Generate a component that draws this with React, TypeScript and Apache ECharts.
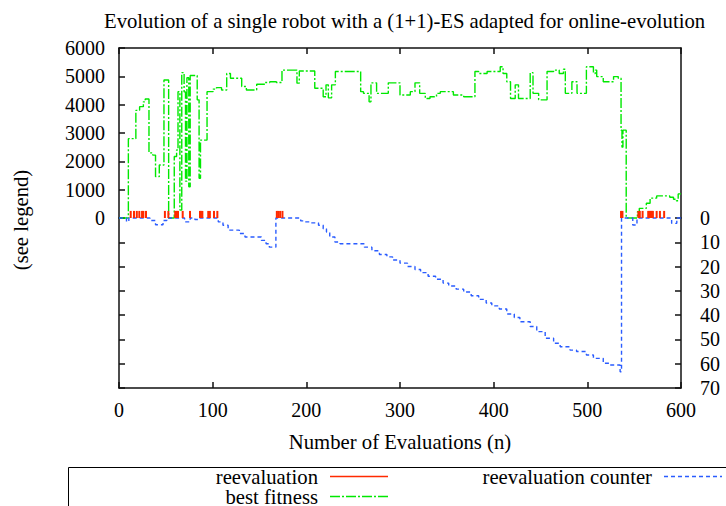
import React, { useEffect, useRef } from "react";
import * as echarts from "echarts";

const TITLE = "Evolution of a single robot with a (1+1)-ES adapted for online-evolution";
const X_NAME = "Number of Evaluations (n)";
const Y_NAME = "(see legend)";
const SERIES_NAMES = ["reevaluation", "best fitness", "reevaluation counter"];

const X_MIN = 0;
const X_MAX = 600;
const X_STEP = 100;
const FIT_MIN = 0;
const FIT_MAX = 6000;
const FIT_STEP = 1000;
const CNT_MIN = 0;
const CNT_MAX = 70;
const CNT_STEP = 10;

// best fitness: [evaluation, value], value holds from this evaluation on
const bestFitness: [number, number][] = [
  [0, 0], [10, 2800], [18, 3800], [22, 3930], [26, 4100], [28, 4200], [32, 2300], [36, 2220],
  [39, 1460], [43, 1870], [48, 4870], [53, 0], [59, 2170], [61.5, 2400], [63, 4460], [65, 280],
  [67, 5130], [69.5, 4450], [71, 1300], [72.5, 4950], [74.5, 1100], [76, 5030], [83.5, 4170],
  [85.5, 1400], [87, 2750], [94, 4460], [100.5, 4550], [104, 4600], [109.5, 4520], [115, 5100],
  [119, 4930], [131, 4640], [136, 4520], [147, 4720], [156, 4780], [161, 4810], [168, 4780],
  [174, 5220], [190, 4760], [192.5, 5190], [209, 4580], [218, 4280], [221, 4700], [223.5, 4240],
  [227, 4700], [231, 5170], [258, 4460], [261, 4400], [267, 4100], [269, 4770], [275, 4400],
  [287.5, 4770], [300, 4340], [311, 4460], [316, 4770], [321, 4400], [327, 4220], [332, 4280],
  [339, 4400], [343, 4460], [357, 4340], [368, 4280], [380, 5170], [384, 5100], [393, 5170],
  [407, 5340], [410, 5100], [414, 4810], [418, 4220], [423, 4700], [426.5, 4220], [439, 5130],
  [442, 4400], [448, 4170], [457, 5170], [464, 5220], [470, 5100], [474.5, 5250], [476.5, 4400],
  [483.5, 4810], [489, 4400], [499, 5340], [506.5, 5100], [508.5, 5220], [510, 4990], [517, 4810],
  [528, 4990], [533, 4930], [536, 3100], [537, 2500], [538, 3100], [541.5, 0], [553.5, 220],
  [555.5, 340], [563, 520], [567, 700], [574, 780], [588, 730], [592, 660], [595, 610], [597, 850],
  [600, 850],
];

// reevaluation counter: [evaluation, count], drawn downwards on the right axis
const reevalCounter: [number, number][] = [
  [0, 0], [8, 1.5], [10.5, 0], [33, 1], [39, 2.8], [47, 1], [51, 0], [70, 1.6], [76, 0],
  [81, 0.6], [86.5, 0], [106, 1.6], [111, 3], [116.5, 5], [128.5, 6.4], [134.5, 7.8],
  [152, 9.2], [157, 10.6], [160.5, 12], [167.5, 0], [194, 1.2], [198.5, 1.6], [205, 2],
  [213, 3], [218, 4.4], [221.5, 5.8], [225, 7.8], [230.5, 9.9], [236, 10.6], [262, 12],
  [270, 13.5], [278, 15], [286, 16], [292, 17.3], [300, 18.6], [308, 20], [316, 21.2],
  [322, 22.5], [330, 24], [338, 25.2], [346, 26.8], [352, 28], [360, 29.3], [368, 30.5],
  [376, 32], [384, 33.5], [392, 35], [398, 36.2], [406, 37.5], [414, 39.5], [422, 41],
  [428, 42.7], [439, 44.7], [446, 46.8], [455, 49.5], [464, 51.6], [471, 53], [481.5, 54.4],
  [488.5, 55], [499, 56.4], [506.5, 57.8], [517, 59.8], [524, 60.5], [535, 63.3], [536.5, 0],
  [548.5, 2.9], [553, 0], [590, 2.2], [595.5, 0], [600, 0],
];

// evaluations at which a reevaluation happened
const reevaluationAt: number[] = [
  12.5, 16, 19, 21.7, 24.6, 26, 28.8, 49, 52.7, 60, 61, 62, 63, 68, 75.8, 86.5, 87.5, 89,
  95.3, 97, 101.4, 105, 168.5, 170, 172, 174.5, 536, 537.5, 554.5, 556, 559, 565, 566, 567,
  568, 569, 570, 574, 577.5, 582,
];
const REEVAL_MARK = 250;

const FONT = "Liberation Serif";

// legend sample icons built from a dash pattern (on, off, on, off ...) over 58px
function dashIcon(pattern: number[], width = 58, thick = 1.6): string {
  let d = "";
  let x = 0;
  let i = 0;
  while (x < width) {
    const len = pattern[i % pattern.length];
    if (i % 2 === 0) {
      const end = Math.min(x + len, width);
      d += `M${x},0H${end}V${thick}H${x}Z`;
    }
    x += len;
    i++;
  }
  return "path://" + d;
}

export default function App() {
  const ref = useRef<HTMLDivElement>(null);

  useEffect(() => {
    document.body.style.margin = "0";
    if (!ref.current) return;
    const chart = echarts.init(ref.current, undefined, { renderer: "svg" });

    const line = { show: true, onZero: false, lineStyle: { color: "#111", width: 1.5 } };
    const tick = { show: true, inside: true, length: 6, lineStyle: { color: "#111", width: 1.5 } };
    const label = {
      color: "#000", fontSize: 20, fontFamily: FONT,
      formatter: (v: number) => String(v),
    };
    const legendText = { fontFamily: FONT, fontSize: 20.7, color: "#000", padding: [0, 7, 0, 0] };
    const legendBase = {
      orient: "vertical", align: "right", padding: 0, itemWidth: 58, itemHeight: 14,
      itemGap: 0, selectedMode: false, textStyle: legendText,
    };

    const option: any = {
      animation: false,
      textStyle: { fontFamily: FONT, color: "#000" },
      title: {
        text: TITLE,
        left: 99,
        top: 5,
        textStyle: { fontFamily: FONT, fontSize: 20.7, fontWeight: "normal", color: "#000" },
      },
      grid: [
        { left: 119, top: 48, width: 562, height: 170 },
        { left: 119, top: 218, width: 562, height: 170 },
      ],
      xAxis: [
        {
          type: "value", gridIndex: 0, position: "top", min: X_MIN, max: X_MAX, interval: X_STEP,
          axisLine: line, axisTick: tick, axisLabel: { show: false }, splitLine: { show: false },
        },
        {
          type: "value", gridIndex: 1, position: "bottom", min: X_MIN, max: X_MAX, interval: X_STEP,
          axisLine: line, axisTick: tick, splitLine: { show: false },
          axisLabel: { ...label, margin: 12, showMinLabel: true, showMaxLabel: true },
          name: X_NAME, nameLocation: "middle", nameGap: 43,
          nameTextStyle: { fontFamily: FONT, fontSize: 20.7, color: "#000" },
        },
      ],
      yAxis: [
        {
          type: "value", gridIndex: 0, position: "left", min: FIT_MIN, max: FIT_MAX, interval: FIT_STEP,
          axisLine: line, axisTick: tick, splitLine: { show: false },
          axisLabel: { ...label, margin: 14, showMinLabel: true, showMaxLabel: true },
        },
        {
          type: "value", gridIndex: 0, position: "right", min: FIT_MIN, max: FIT_MAX,
          axisLine: line, axisTick: { show: false }, axisLabel: { show: false }, splitLine: { show: false },
        },
        {
          type: "value", gridIndex: 1, position: "right", inverse: true, min: CNT_MIN, max: CNT_MAX,
          interval: CNT_STEP, axisLine: line, axisTick: tick, splitLine: { show: false },
          axisLabel: { ...label, margin: 19, showMinLabel: true, showMaxLabel: true },
        },
        {
          type: "value", gridIndex: 1, position: "left", inverse: true, min: CNT_MIN, max: CNT_MAX,
          interval: CNT_STEP, axisLine: line, axisTick: tick, axisLabel: { show: false },
          splitLine: { show: false },
        },
      ],
      legend: [
        {
          ...legendBase, right: 338, top: 466,
          data: [{ name: SERIES_NAMES[0], icon: dashIcon([58]) }],
        },
        {
          ...legendBase, right: 338, top: 486,
          data: [{ name: SERIES_NAMES[1], icon: dashIcon([10, 2, 2, 2]) }],
        },
        {
          ...legendBase, right: 4, top: 466,
          data: [{ name: SERIES_NAMES[2], icon: dashIcon([4, 3]) }],
        },
      ],
      graphic: [
        {
          type: "rect", silent: true,
          shape: { x: 68.5, y: 467.5, width: 700, height: 100 },
          style: { fill: "none", stroke: "#000", lineWidth: 1 },
        },
        {
          type: "text", silent: true, x: 21, y: 220, rotation: Math.PI / 2,
          style: {
            text: Y_NAME, fontFamily: FONT, fontSize: 20.7, fill: "#000",
            align: "center", verticalAlign: "middle",
          },
        },
      ],
      series: [
        {
          name: SERIES_NAMES[0], type: "bar", xAxisIndex: 0, yAxisIndex: 0,
          data: reevaluationAt.map((x) => [x, REEVAL_MARK]),
          barWidth: 2, itemStyle: { color: "#ff2a00" }, z: 3,
        },
        {
          name: SERIES_NAMES[1], type: "line", xAxisIndex: 0, yAxisIndex: 0, step: "end",
          data: bestFitness, symbol: "none", clip: false, z: 2,
          itemStyle: { color: "#00e800" },
          lineStyle: { color: "#00e800", width: 1.4, type: [10, 2, 2, 2] },
        },
        {
          name: SERIES_NAMES[2], type: "line", xAxisIndex: 1, yAxisIndex: 2, step: "end",
          data: reevalCounter, symbol: "none", clip: false, z: 2,
          itemStyle: { color: "#2a5cff" },
          lineStyle: { color: "#2a5cff", width: 1.4, type: [4, 3] },
        },
      ],
    };

    chart.setOption(option);
    return () => chart.dispose();
  }, []);

  return <div ref={ref} style={{ width: 726, height: 506 }} />;
}
